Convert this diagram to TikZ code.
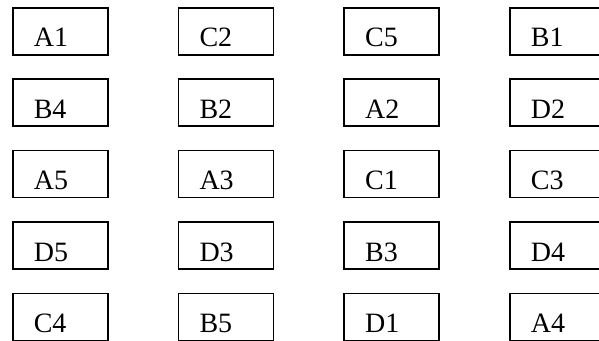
\documentclass[tikz,border=0pt]{standalone}
\usepackage{fontspec}
\setmainfont{Liberation Serif}
\usepackage{tikz}
\usetikzlibrary{positioning}

\begin{document}
\begin{tikzpicture}[
  x=1pt, y=-1pt,
  cell/.style={draw=black, line width=1.6pt, fill=white,
               anchor=north west, minimum width=95pt, minimum height=47pt,
               inner xsep=21pt, inner ysep=0pt, text width=53pt, align=left,
               text height=39pt, text depth=8pt,
               font=\fontsize{28}{30}\selectfont},
]
  \clip (0,0) rectangle (599,340);
  \useasboundingbox (0,0) rectangle (599,340);

  % grid of labelled boxes, one list per row
  \foreach \cells [count=\r from 0] in {{A1,C2,C5,B1},{B4,B2,A2,D2},{A5,A3,C1,C3},{D5,D3,B3,D4},{C4,B5,D1,A4}}
    \foreach \lab [count=\c from 0] in \cells
      \node[cell] (\lab) at ({12+165.7*\c},{7+71.4*\r}) {\lab};
\end{tikzpicture}
\end{document}
